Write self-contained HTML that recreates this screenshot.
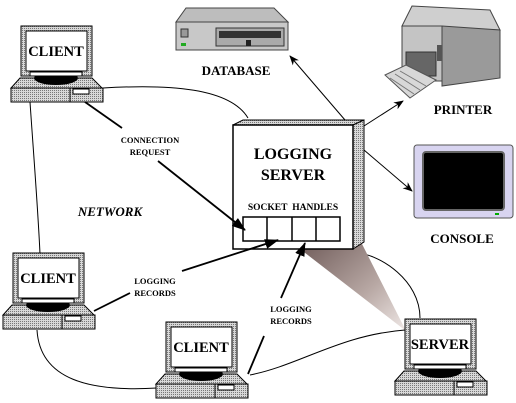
<!DOCTYPE html>
<html><head><style>
html,body{margin:0;padding:0;background:#fff;}
svg{display:block;}
</style></head><body>
<svg width="516" height="403" viewBox="0 0 516 403" xmlns="http://www.w3.org/2000/svg" font-family="Liberation Serif, serif" font-weight="bold">
<defs>
<pattern id="dots" width="2" height="2" patternUnits="userSpaceOnUse">
<rect width="2" height="2" fill="#d8d8d8"/><rect width="1" height="1" fill="#777"/>
</pattern>
<linearGradient id="cone" x1="0" y1="0" x2="1" y2="1">
<stop offset="0" stop-color="#6e5a58"/><stop offset="0.6" stop-color="#b8a8a4"/><stop offset="1" stop-color="#efe8e6"/>
</linearGradient>
<marker id="ah" markerWidth="10" markerHeight="8" refX="9" refY="4" orient="auto" markerUnits="userSpaceOnUse">
<path d="M0,0 L10,4 L0,8 L3,4 Z" fill="#000"/></marker>
<marker id="ab" markerWidth="14" markerHeight="10" refX="13" refY="5" orient="auto" markerUnits="userSpaceOnUse">
<path d="M0,0 L14,5 L0,10 Z" fill="#000"/></marker>
<g id="pc">
<path d="M20,78 L92,78 L102,88 L11,88 Z" fill="url(#dots)" stroke="#000" stroke-width="1"/>
<rect x="11" y="88" width="92" height="14" fill="url(#dots)" stroke="#000"/>
<line x1="70" y1="88" x2="70" y2="102" stroke="#000"/>
<rect x="73" y="89" width="16" height="5" fill="#fff" stroke="#000"/>
<ellipse cx="56" cy="78" rx="22" ry="7" fill="#000"/>
<rect x="21" y="26" width="71" height="50" fill="url(#dots)" stroke="#000"/>
<rect x="26" y="31" width="61" height="40" fill="#fff" stroke="#000"/>
<rect x="30" y="72" width="52" height="4" fill="#fff" stroke="#000"/>
</g>
</defs>

<path d="M103,88 C170,84 230,88 248,118" fill="none" stroke="#000"/>
<path d="M30,102 C34,160 38,210 40,254" fill="none" stroke="#000"/>
<path d="M37,330 C40,380 90,392 157,388" fill="none" stroke="#000"/>
<path d="M250,375 C300,365 340,335 405,330" fill="none" stroke="#000"/>
<path d="M358,253 C380,255 420,280 420,318" fill="none" stroke="#000"/>

<polygon points="300,249 360,240 406,331" fill="url(#cone)"/>

<use href="#pc"/>
<text x="56" y="56" font-size="14.5" text-anchor="middle" font-family="Liberation Serif, serif">CLIENT</text>
<use href="#pc" transform="translate(-8,227)"/>
<text x="48" y="283" font-size="14.5" text-anchor="middle" font-family="Liberation Serif, serif">CLIENT</text>
<use href="#pc" transform="translate(145,296)"/>
<text x="201" y="352" font-size="14.5" text-anchor="middle" font-family="Liberation Serif, serif">CLIENT</text>
<use href="#pc" transform="translate(384,293)"/>
<text x="440" y="349" font-size="14.5" text-anchor="middle" font-family="Liberation Serif, serif">SERVER</text>

<polygon points="233,125 243,120 364,120 353,125" fill="url(#dots)" stroke="#000"/>
<polygon points="353,125 364,120 364,242 353,249" fill="url(#dots)" stroke="#000"/>
<rect x="233" y="125" width="120" height="124" fill="#fff" stroke="#000" stroke-width="1.5"/>
<text x="293" y="159" font-size="16" text-anchor="middle" font-family="Liberation Serif, serif">LOGGING</text>
<text x="293" y="180" font-size="16" text-anchor="middle" font-family="Liberation Serif, serif">SERVER</text>
<text x="293" y="210" font-size="9.5" text-anchor="middle" font-family="Liberation Serif, serif">SOCKET&#160;&#160;HANDLES</text>
<rect x="243" y="217" width="97" height="24" fill="#fff" stroke="#000" stroke-width="1.5"/>
<line x1="267" y1="217" x2="267" y2="241" stroke="#000" stroke-width="1.5"/>
<line x1="292" y1="217" x2="292" y2="241" stroke="#000" stroke-width="1.5"/>
<line x1="316" y1="217" x2="316" y2="241" stroke="#000" stroke-width="1.5"/>

<line x1="85" y1="102" x2="122" y2="128" stroke="#000" stroke-width="1.8"/>
<line x1="158" y1="161" x2="245" y2="230" stroke="#000" stroke-width="1.8" marker-end="url(#ab)"/>
<text x="150" y="143" font-size="8.5" text-anchor="middle" font-family="Liberation Serif, serif">CONNECTION</text>
<text x="150" y="155" font-size="8.5" text-anchor="middle" font-family="Liberation Serif, serif">REQUEST</text>
<line x1="94" y1="311" x2="130" y2="293" stroke="#000" stroke-width="1.8"/>
<line x1="182" y1="271" x2="278" y2="240" stroke="#000" stroke-width="1.8" marker-end="url(#ab)"/>
<text x="155" y="284" font-size="8.5" text-anchor="middle" font-family="Liberation Serif, serif">LOGGING</text>
<text x="155" y="296" font-size="8.5" text-anchor="middle" font-family="Liberation Serif, serif">RECORDS</text>
<line x1="248" y1="374" x2="264" y2="336" stroke="#000" stroke-width="1.8"/>
<line x1="281" y1="298" x2="305" y2="243" stroke="#000" stroke-width="1.8" marker-end="url(#ab)"/>
<text x="291" y="312" font-size="8.5" text-anchor="middle" font-family="Liberation Serif, serif">LOGGING</text>
<text x="291" y="324" font-size="8.5" text-anchor="middle" font-family="Liberation Serif, serif">RECORDS</text>
<text x="110" y="216" font-size="13" font-style="italic" text-anchor="middle" font-family="Liberation Serif, serif">NETWORK</text>

<line x1="345" y1="120" x2="290" y2="56" stroke="#000" marker-end="url(#ah)"/>
<line x1="364" y1="126" x2="403" y2="101" stroke="#000" marker-end="url(#ah)"/>
<line x1="364" y1="150" x2="412" y2="191" stroke="#000" marker-end="url(#ah)"/>

<polygon points="186,8 274,8 288,22 176,22" fill="#bdbdbd" stroke="#444"/>
<rect x="176" y="22" width="112" height="28" fill="#c8c8c8" stroke="#444"/>
<rect x="181" y="29" width="7" height="8" fill="#999" stroke="#333"/>
<rect x="181" y="43" width="5" height="3" fill="#2a2"/>
<rect x="216" y="28" width="68" height="18" fill="#aaa" stroke="#333"/>
<rect x="219" y="31" width="62" height="7" fill="#333"/>
<rect x="246" y="40" width="5" height="6" fill="#222"/>
<text x="236" y="75" font-size="13" text-anchor="middle" font-family="Liberation Serif, serif">DATABASE</text>

<polygon points="402,26 412,6 490,10 500,30" fill="#cfcfcf" stroke="#444"/>
<rect x="402" y="26" width="40" height="55" fill="#c4c4c4" stroke="#444"/>
<polygon points="442,26 500,30 500,78 442,86" fill="#9a9a9a" stroke="#444"/>
<rect x="406" y="52" width="30" height="24" fill="#666" stroke="#333"/>
<polygon points="385,75 406,65 436,80 410,98" fill="#d8d8d8" stroke="#555"/>
<line x1="390" y1="78" x2="414" y2="94" stroke="#777"/>
<line x1="395" y1="74" x2="420" y2="90" stroke="#777"/>
<line x1="400" y1="71" x2="426" y2="86" stroke="#777"/>
<rect x="437" y="45" width="5" height="16" fill="#555"/>
<text x="463" y="114" font-size="13" text-anchor="middle" font-family="Liberation Serif, serif">PRINTER</text>

<rect x="414" y="145" width="99" height="73" rx="3" fill="#d8d4f0" stroke="#555"/>
<rect x="423" y="152" width="81" height="58" rx="3" fill="#000" stroke="#666" stroke-width="2"/>
<rect x="495" y="213" width="4" height="2" fill="#0a0"/>
<text x="462" y="243" font-size="13" text-anchor="middle" font-family="Liberation Serif, serif">CONSOLE</text>
</svg>
</body></html>
